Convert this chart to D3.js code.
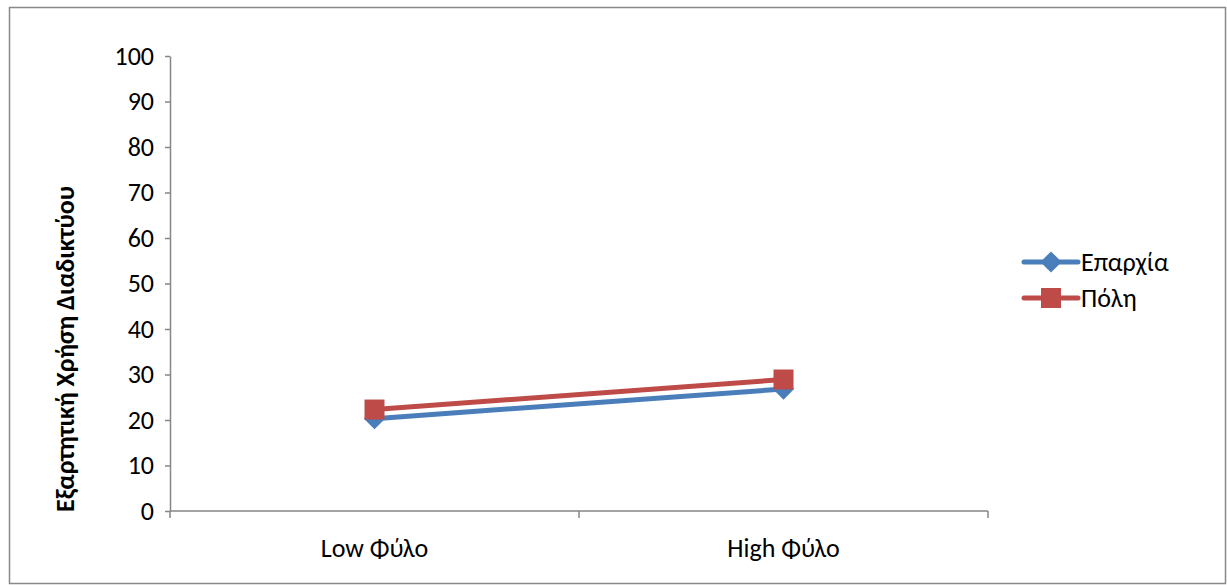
<!DOCTYPE html>
<html>
<head>
<meta charset="utf-8">
<script src="https://cdn.jsdelivr.net/npm/d3@7"></script>
<style>
  body { margin: 0; background: #fff; }
  svg { display: block; font-family: Carlito, "Open Sans", "Liberation Sans", sans-serif; }
</style>
</head>
<body>
<svg width="1227" height="585"></svg>
<script>
var categories = ['Low Φύλο', 'High Φύλο'];
var seriesNames = ['Επαρχία', 'Πόλη'];
var eparxia = [20.3, 26.8];
var poli = [22.3, 28.9];
var yTicks = [0, 10, 20, 30, 40, 50, 60, 70, 80, 90, 100];
var colors = ['#4a7ebb', '#be4b48'];
var fontSize = 26;

var svg = d3.select('svg');
var plotLeft = 170, plotRight = 988, plotTop = 56, plotBottom = 511;

svg.append('rect')
    .attr('x', 9.5).attr('y', 7.5)
    .attr('width', 1216).attr('height', 576)
    .attr('fill', 'none')
    .attr('stroke', '#898989')
    .attr('stroke-width', 1.5);

var x = d3.scaleBand().domain(categories).range([plotLeft, plotRight]);
var y = d3.scaleLinear().domain([0, 100]).range([plotBottom, plotTop]);

var yAxis = svg.append('g')
    .attr('transform', 'translate(' + plotLeft + ',0)')
    .call(d3.axisLeft(y).tickValues(yTicks).tickSize(5).tickSizeOuter(0).tickPadding(11));
yAxis.attr('font-family', null).attr('font-size', null);
yAxis.select('.domain').attr('stroke', '#868686').attr('stroke-width', 1.5);
yAxis.selectAll('line').attr('stroke', '#868686').attr('stroke-width', 1.5);
yAxis.selectAll('text').attr('font-size', fontSize).attr('fill', '#000');

var xAxis = svg.append('g')
    .attr('transform', 'translate(0,' + plotBottom + ')');
xAxis.append('line')
    .attr('x1', plotLeft).attr('x2', plotRight)
    .attr('stroke', '#868686').attr('stroke-width', 1.5);
xAxis.selectAll('.tk')
    .data([plotLeft, plotLeft + x.bandwidth(), plotRight])
    .enter().append('line')
    .attr('x1', function (d) { return d; })
    .attr('x2', function (d) { return d; })
    .attr('y1', 0).attr('y2', 7)
    .attr('stroke', '#868686').attr('stroke-width', 1.5);
xAxis.selectAll('.lbl')
    .data(categories)
    .enter().append('text')
    .attr('x', function (d) { return x(d) + x.bandwidth() / 2; })
    .attr('y', 46)
    .attr('text-anchor', 'middle')
    .attr('font-size', fontSize)
    .text(function (d) { return d; });

svg.append('text')
    .attr('transform', 'translate(74,349) rotate(-90)')
    .attr('text-anchor', 'middle')
    .attr('font-size', fontSize)
    .attr('font-weight', 'bold')
    .text('Εξαρτητική Χρήση Διαδικτύου');

// diamond = square rotated 45deg
var diamond = d3.symbol(d3.symbolSquare, 225)();

var cx = function (i) { return x(categories[i]) + x.bandwidth() / 2; };
var line = d3.line()
    .x(function (d, i) { return cx(i); })
    .y(function (d) { return y(d); });

var series = [eparxia, poli];
series.forEach(function (vals, s) {
    svg.append('path')
        .datum(vals)
        .attr('d', line)
        .attr('fill', 'none')
        .attr('stroke', colors[s])
        .attr('stroke-width', 5);
    vals.forEach(function (v, i) {
        if (s === 0) {
            svg.append('path')
                .attr('d', diamond)
                .attr('transform', 'translate(' + cx(i) + ',' + y(v) + ') rotate(45)')
                .attr('fill', colors[s]);
        } else {
            svg.append('rect')
                .attr('x', cx(i) - 10).attr('y', y(v) - 10)
                .attr('width', 20).attr('height', 20)
                .attr('fill', colors[s]);
        }
    });
});

var legend = svg.append('g');
seriesNames.forEach(function (name, s) {
    var ly = 262 + s * 36;
    legend.append('line')
        .attr('x1', 1024).attr('x2', 1078)
        .attr('y1', ly).attr('y2', ly)
        .attr('stroke', colors[s]).attr('stroke-width', 5)
        .attr('stroke-linecap', 'round');
    if (s === 0) {
        legend.append('path')
            .attr('d', diamond)
            .attr('transform', 'translate(1051,' + ly + ') rotate(45)')
            .attr('fill', colors[s]);
    } else {
        legend.append('rect')
            .attr('x', 1041).attr('y', ly - 10)
            .attr('width', 20).attr('height', 20)
            .attr('fill', colors[s]);
    }
    legend.append('text')
        .attr('x', 1081).attr('y', ly + 9)
        .attr('font-size', fontSize)
        .text(name);
});
</script>
</body>
</html>
